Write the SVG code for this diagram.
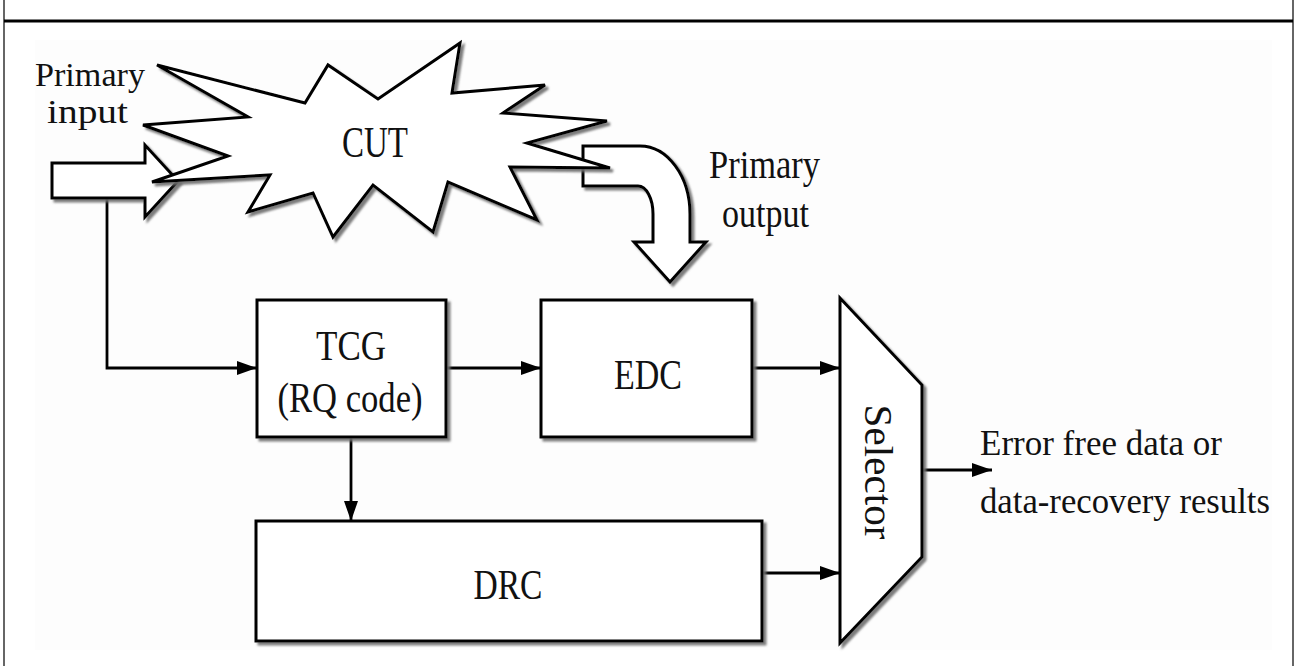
<svg xmlns="http://www.w3.org/2000/svg" width="1296" height="666" viewBox="0 0 1296 666">
  <defs>
    <style>
      .lbl { font-family: "Liberation Serif", "Times New Roman", serif; fill: #111; }
      .box { fill: #fff; stroke: #000; stroke-width: 3; }
      .wire { fill: none; stroke: #000; stroke-width: 2.8; }
    </style>
    <filter id="shadow" x="-10%" y="-10%" width="130%" height="130%">
      <feDropShadow dx="3" dy="3" stdDeviation="0.8" flood-color="#6e6e6e" flood-opacity="0.9"/>
    </filter>
    <marker id="arrow" viewBox="0 0 20 14" refX="20" refY="7" markerWidth="20" markerHeight="14" markerUnits="userSpaceOnUse" orient="auto">
      <path d="M0,0 L20,7 L0,14 Z" fill="#000"/>
    </marker>
  </defs>

  <!-- page frame -->
  <rect x="0" y="0" width="1296" height="666" fill="#fff"/>
  <rect x="35" y="40" width="1237" height="610" fill="#fdfdfd"/>
  <line x1="4" y1="0" x2="4" y2="666" stroke="#333" stroke-width="1.5"/>
  <line x1="1293" y1="0" x2="1293" y2="666" stroke="#333" stroke-width="1.5"/>
  <line x1="4" y1="21" x2="1293" y2="21" stroke="#000" stroke-width="3"/>

  <!-- connectors -->
  <g id="connectors">
    <polyline class="wire" points="107,198 107,368 257,368" marker-end="url(#arrow)"/>
    <line class="wire" x1="446" y1="368" x2="541" y2="368" marker-end="url(#arrow)"/>
    <line class="wire" x1="752" y1="368" x2="840" y2="368" marker-end="url(#arrow)"/>
    <line class="wire" x1="351" y1="437" x2="351" y2="521" marker-end="url(#arrow)"/>
    <line class="wire" x1="762" y1="573" x2="840" y2="573" marker-end="url(#arrow)"/>
    <line class="wire" x1="922" y1="470" x2="992" y2="470" marker-end="url(#arrow)"/>
  </g>

  <!-- primary input -->
  <g id="primary-input">
    <text class="lbl" x="35" y="86" font-size="33" textLength="110" lengthAdjust="spacingAndGlyphs">Primary</text>
    <text class="lbl" x="47" y="123" font-size="33" textLength="81" lengthAdjust="spacingAndGlyphs">input</text>
    <path class="box" filter="url(#shadow)" d="M52,163 H145 V145 L178,181 L145,217 V198 H52 Z"/>
  </g>

  <!-- primary output -->
  <g id="primary-output">
    <path class="box" filter="url(#shadow)" d="M583,146 H640 A50,68 0 0 1 690,214 V242 H706 L670,282 L634,242 H653 V214 A15,28 0 0 0 638,186 H583 Z"/>
    <text class="lbl" x="709" y="178" font-size="39" textLength="111" lengthAdjust="spacingAndGlyphs">Primary</text>
    <text class="lbl" x="722" y="227" font-size="39" textLength="87" lengthAdjust="spacingAndGlyphs">output</text>
  </g>

  <!-- circuit under test -->
  <g id="cut">
    <polygon class="box" filter="url(#shadow)" points="157,65 305,103 328,65 378,99 460,43 452,93 545,85 503,113 607,121 527,143 610,168 510,167 537,220 448,182 433,232 373,185 333,237 313,193 248,212 270,175 152,182 228,156 143,125 248,117"/>
    <text class="lbl" x="375" y="157" font-size="44" text-anchor="middle" textLength="66" lengthAdjust="spacingAndGlyphs">CUT</text>
  </g>

  <!-- test code generator -->
  <g id="tcg">
    <rect class="box" filter="url(#shadow)" x="257" y="300" width="189" height="137"/>
    <text class="lbl" x="351" y="360" font-size="43" text-anchor="middle" textLength="70" lengthAdjust="spacingAndGlyphs">TCG</text>
    <text class="lbl" x="350" y="412" font-size="43" text-anchor="middle" textLength="145" lengthAdjust="spacingAndGlyphs">(RQ code)</text>
  </g>

  <!-- error detection circuit -->
  <g id="edc">
    <rect class="box" filter="url(#shadow)" x="541" y="300" width="211" height="137"/>
    <text class="lbl" x="648" y="389" font-size="43" text-anchor="middle" textLength="68" lengthAdjust="spacingAndGlyphs">EDC</text>
  </g>

  <!-- data recovery circuit -->
  <g id="drc">
    <rect class="box" filter="url(#shadow)" x="256" y="521" width="506" height="120"/>
    <text class="lbl" x="508" y="599" font-size="43" text-anchor="middle" textLength="69" lengthAdjust="spacingAndGlyphs">DRC</text>
  </g>

  <!-- selector -->
  <g id="selector">
    <polygon class="box" filter="url(#shadow)" points="840,298 922,385 922,557 840,643"/>
    <text class="lbl" x="0" y="0" font-size="40" text-anchor="middle" dominant-baseline="central" textLength="135" lengthAdjust="spacingAndGlyphs" transform="translate(878,472) rotate(90)">Selector</text>
  </g>

  <!-- output label -->
  <g id="result">
    <text class="lbl" x="980" y="455" font-size="36" textLength="242" lengthAdjust="spacingAndGlyphs">Error free data or</text>
    <text class="lbl" x="980" y="513" font-size="36" textLength="290" lengthAdjust="spacingAndGlyphs">data-recovery results</text>
  </g>
</svg>
